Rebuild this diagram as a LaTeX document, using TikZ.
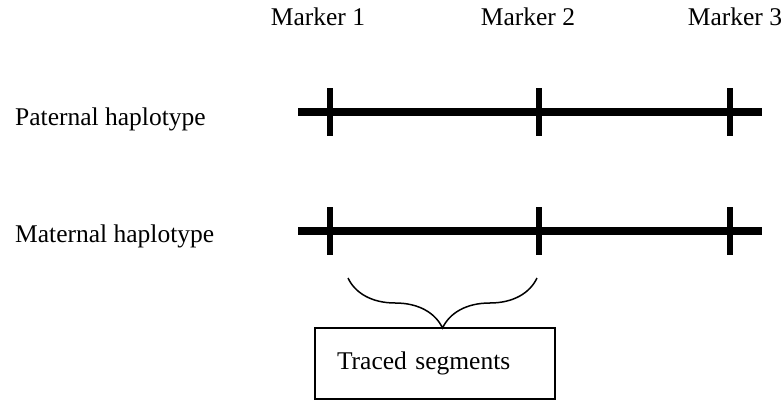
\documentclass[tikz,border=0pt]{standalone}
\usepackage{fontspec}
\setmainfont{Liberation Serif}
\usetikzlibrary{decorations.pathreplacing}
\tikzset{every node/.style={font=\fontsize{25.5}{30}\selectfont, inner sep=0pt},
  haplo/.style={line width=7.5pt},
  tick/.style={line width=6pt},
  tracebox/.style={draw, line width=1.3pt, text width=196pt, inner xsep=22pt, minimum height=71pt, align=left}}

\begin{document}
\begin{tikzpicture}[x=1pt,y=-1pt]
  \useasboundingbox (0,0) rectangle (784,402);
  \node[anchor=base] (mk1) at (318,25) {Marker 1};
  \node[anchor=base] (mk2) at (528,25) {Marker 2};
  \node[anchor=base] (mk3) at (735,25) {Marker 3};
  \node[anchor=base west] (pat) at (15,125) {Paternal haplotype};
  \node[anchor=base west] (mat) at (15,242) {Maternal haplotype};
  \coordinate (patL) at (298,112);
  \coordinate (patR) at (762,112);
  \coordinate (matL) at (298,231);
  \coordinate (matR) at (762,231);
  \draw[haplo] (patL) -- (patR);
  \draw[haplo] (matL) -- (matR);
  \foreach \x in {330,539,730} {
    \draw[tick] (\x,88) -- (\x,136);
    \draw[tick] (\x,207) -- (\x,255);
  }
  \draw[decorate, decoration={brace, amplitude=50pt}, line width=1.5pt] (537,278) -- (348,278);
  \node[tracebox] (trace) at (435,363.5) {Traced segments};
\end{tikzpicture}
\end{document}
